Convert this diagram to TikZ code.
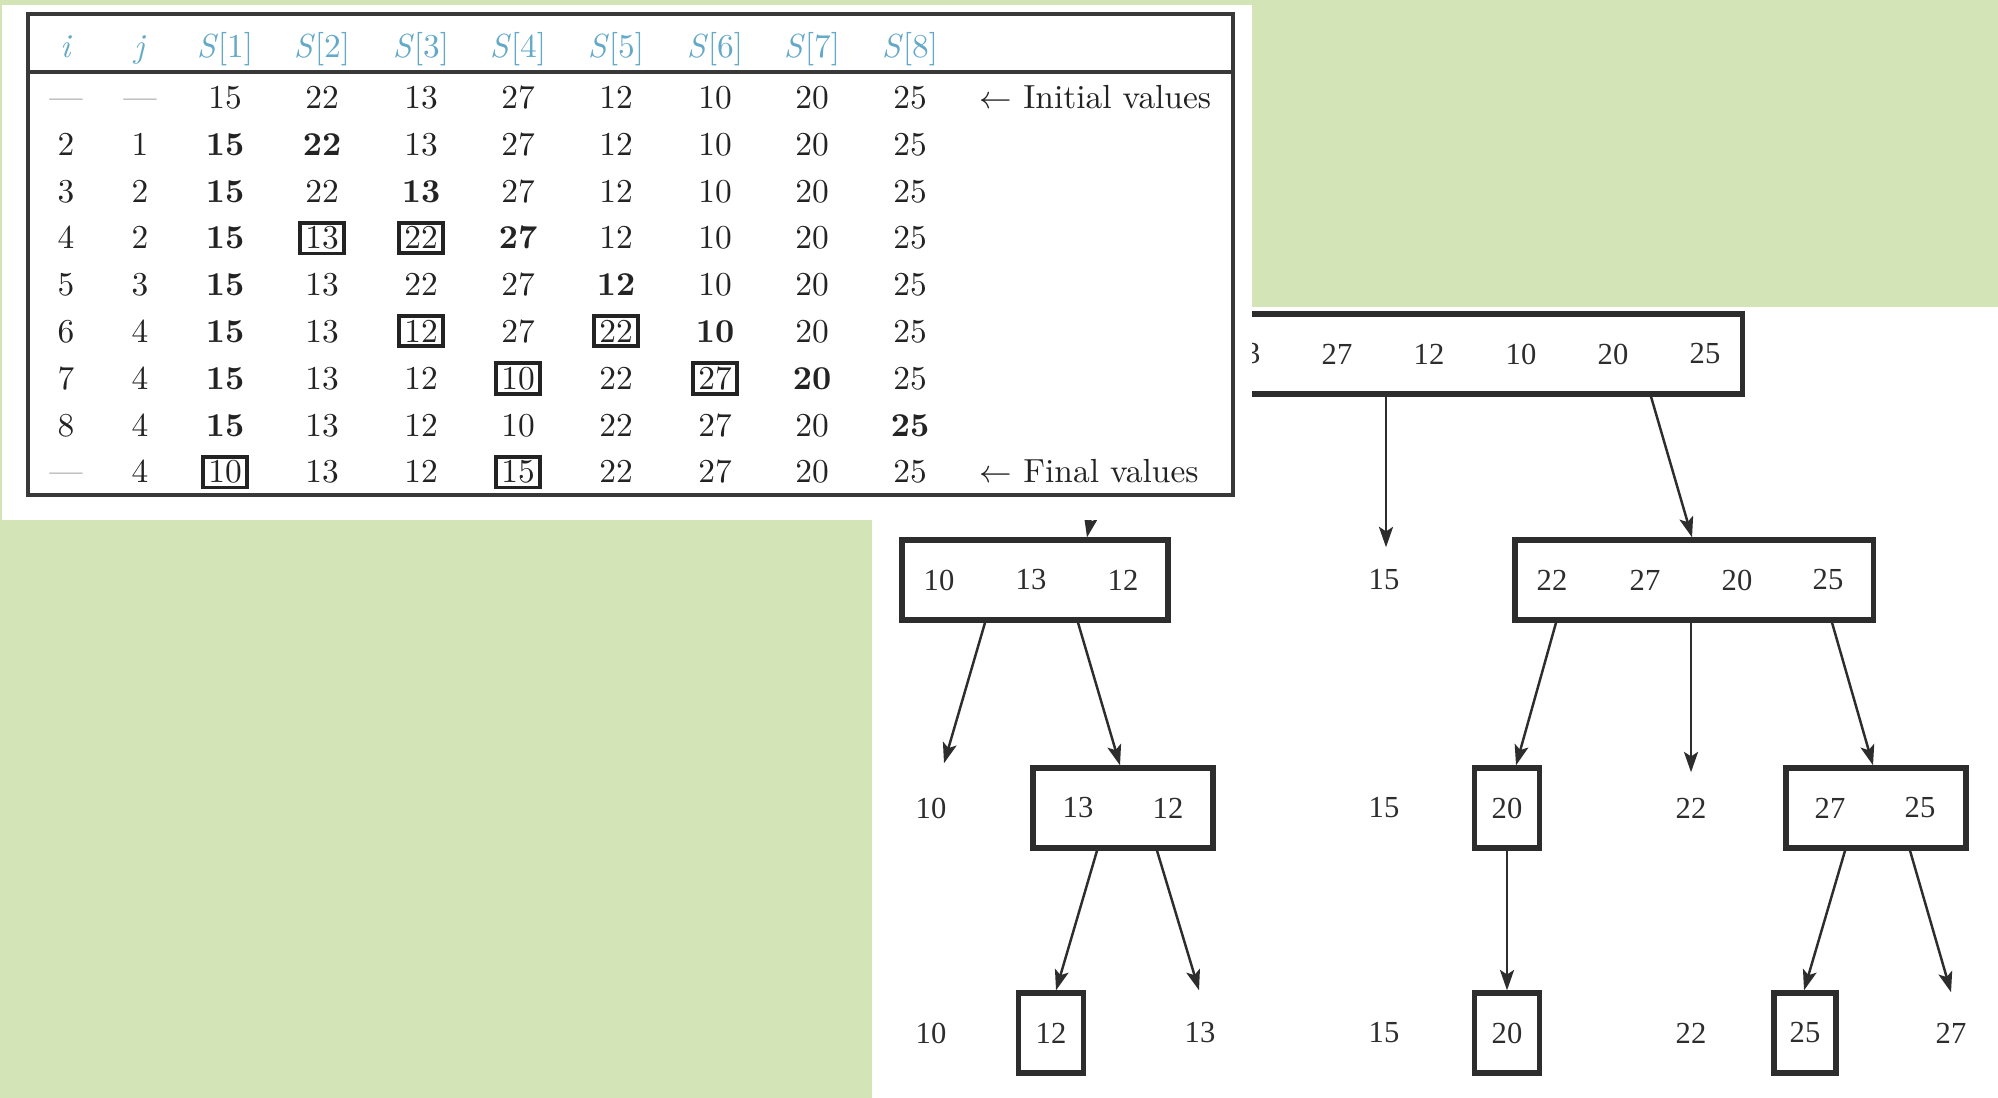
\documentclass[tikz,border=0pt]{standalone}
\usepackage{fontspec}
\newfontfamily\treefont{Liberation Serif}
\usetikzlibrary{arrows.meta,calc}
\definecolor{paper}{RGB}{211,229,183}
\definecolor{headblue}{RGB}{100,170,200}
\definecolor{ink}{RGB}{35,35,35}
\definecolor{treeink}{RGB}{45,45,45}

% one row of the trace table: #1 = row number, #2 = list of style/value pairs
% (n = plain, b = bold, x = framed, d = dash)
\newcommand\tabrow[2]{%
  \pgfmathsetmacro\ry{108.5+46.8*(#1-1)}%
  \foreach \s/\v [count=\c] in {#2} {%
    \pgfmathsetmacro\cx{{66,140,225,322,421,518,616,715,812,910}[\c-1]}%
    \node[c\s] (r#1c\c) at (\cx,\ry) {\v};
  }%
}

\begin{document}
\begin{tikzpicture}[x=0.01cm,y=-0.01cm,
  cn/.style={anchor=base,inner sep=0pt,text=ink,font=\fontsize{9.5}{11.5}\selectfont},
  cb/.style={cn,font=\fontsize{9.5}{11.5}\selectfont\bfseries},
  cx/.style={cn,draw=ink,line width=1.1pt,inner xsep=1.6pt,inner ysep=1.1pt},
  cd/.style={cn,text=ink!60},
  head/.style={cn,text=headblue},
  num/.style={font=\treefont\fontsize{8.7}{10}\selectfont,text=treeink,inner sep=0pt},
  leaf/.style={num,minimum height=0.8cm},
  treebox/.style={num,draw=treeink,line width=1.5pt,minimum height=0.8cm},
  arr/.style={draw=treeink,line width=0.7pt,-{Stealth[length=5.8pt,width=4pt,inset=1.3pt]}}
]
\useasboundingbox (0,0) rectangle (1998,1098);

% backgrounds
\fill[paper] (0,0) rectangle (1998,1098);
\fill[white] (872,520) rectangle (1998,1098);
\fill[white] (1252,307) rectangle (1998,520);

% ---------------- quicksort partition tree ----------------
% level 0
\node[treebox,minimum width=7.18cm] (T) at (1383,354) {};
\foreach \v [count=\k] in {15,22,13,27,12,10,20,25}
  \node[num] (t\k) at (969+92*\k,354) {\v};

% level 1
\node[treebox,minimum width=2.66cm] (A) at (1035,580) {};
\node[num] (a1) at (939,580) {10};
\node[num] (a2) at (1031,580) {13};
\node[num] (a3) at (1123,580) {12};
\node[leaf] (m15) at (1384,580) {15};
\node[treebox,minimum width=3.58cm] (B) at (1694,580) {};
\node[num] (b1) at (1552,580) {22};
\node[num] (b2) at (1645,580) {27};
\node[num] (b3) at (1737,580) {20};
\node[num] (b4) at (1828,580) {25};

% level 2
\node[leaf] (p10) at (931,808) {10};
\node[treebox,minimum width=1.8cm] (C) at (1123,808) {};
\node[num] (c1) at (1078,808) {13};
\node[num] (c2) at (1168,808) {12};
\node[leaf] (p15) at (1384,808) {15};
\node[treebox,minimum width=0.65cm] (D) at (1507,808) {20};
\node[leaf] (p22) at (1691,808) {22};
\node[treebox,minimum width=1.8cm] (E) at (1876,808) {};
\node[num] (e1) at (1830,808) {27};
\node[num] (e2) at (1920,808) {25};

% level 3
\node[leaf] (q10) at (931,1033) {10};
\node[treebox,minimum width=0.65cm] (F) at (1051,1033) {12};
\node[leaf] (q13) at (1200,1033) {13};
\node[leaf] (q15) at (1384,1033) {15};
\node[treebox,minimum width=0.65cm] (G) at (1507,1033) {20};
\node[leaf] (q22) at (1691,1033) {22};
\node[treebox,minimum width=0.62cm] (H) at (1805,1033) {25};
\node[leaf] (q27) at (1951,1033) {27};

% connectors
\draw[arr] ($(T.south)+(-268,0)$) -- ($(A.north)+(52,0)$);
\draw[arr] ($(T.south)+(3,0)$) -- ($(m15.north)+(2,8)$);
\draw[arr] ($(T.south)+(268,0)$) -- ($(B.north)+(-2,0)$);
\draw[arr] ($(A.south)+(-50,0)$) -- ($(p10.north)+(13,-4)$);
\draw[arr] ($(A.south)+(43,0)$) -- ($(C.north)+(-3,0)$);
\draw[arr] ($(B.south)+(-138,0)$) -- ($(D.north)+(9,0)$);
\draw[arr] ($(B.south)+(-3,0)$) -- ($(p22.north)+(0,5)$);
\draw[arr] ($(B.south)+(138,0)$) -- ($(E.north)+(-3,0)$);
\draw[arr] ($(C.south)+(-26,0)$) -- ($(F.north)+(5,0)$);
\draw[arr] ($(C.south)+(34,0)$) -- ($(q13.north)+(-1,-2)$);
\draw[arr] (D.south) -- (G.north);
\draw[arr] ($(E.south)+(-31,0)$) -- ($(H.north)+(-1,0)$);
\draw[arr] ($(E.south)+(34,0)$) -- (q27.north);

% ---------------- trace table ----------------
\fill[white] (2,5) rectangle (1252,520);
\draw[draw=ink!90,line width=0.9pt] (28,14) rectangle (1233,495);
\draw[draw=ink!90,line width=1.2pt] (28,72) -- (1233,72);

\foreach \t [count=\c] in {\textit{i},\textit{j},\textit{S}[1],\textit{S}[2],\textit{S}[3],\textit{S}[4],\textit{S}[5],\textit{S}[6],\textit{S}[7],\textit{S}[8]} {
  \pgfmathsetmacro\cx{{66,140,225,322,421,518,616,715,812,910}[\c-1]}
  \node[head] (h\c) at (\cx,57.5) {\t};
}

\tabrow{1}{d/—,d/—,n/15,n/22,n/13,n/27,n/12,n/10,n/20,n/25}
\tabrow{2}{n/2,n/1,b/15,b/22,n/13,n/27,n/12,n/10,n/20,n/25}
\tabrow{3}{n/3,n/2,b/15,n/22,b/13,n/27,n/12,n/10,n/20,n/25}
\tabrow{4}{n/4,n/2,b/15,x/13,x/22,b/27,n/12,n/10,n/20,n/25}
\tabrow{5}{n/5,n/3,b/15,n/13,n/22,n/27,b/12,n/10,n/20,n/25}
\tabrow{6}{n/6,n/4,b/15,n/13,x/12,n/27,x/22,b/10,n/20,n/25}
\tabrow{7}{n/7,n/4,b/15,n/13,n/12,x/10,n/22,x/27,b/20,n/25}
\tabrow{8}{n/8,n/4,b/15,n/13,n/12,n/10,n/22,n/27,n/20,b/25}
\tabrow{9}{d/—,n/4,x/10,n/13,n/12,x/15,n/22,n/27,n/20,n/25}

\node[cn,anchor=base west] (initlab) at (979,108.5) {$\leftarrow$ Initial values};
\node[cn,anchor=base west] (finallab) at (979,482.9) {$\leftarrow$ Final values};
\end{tikzpicture}
\end{document}
